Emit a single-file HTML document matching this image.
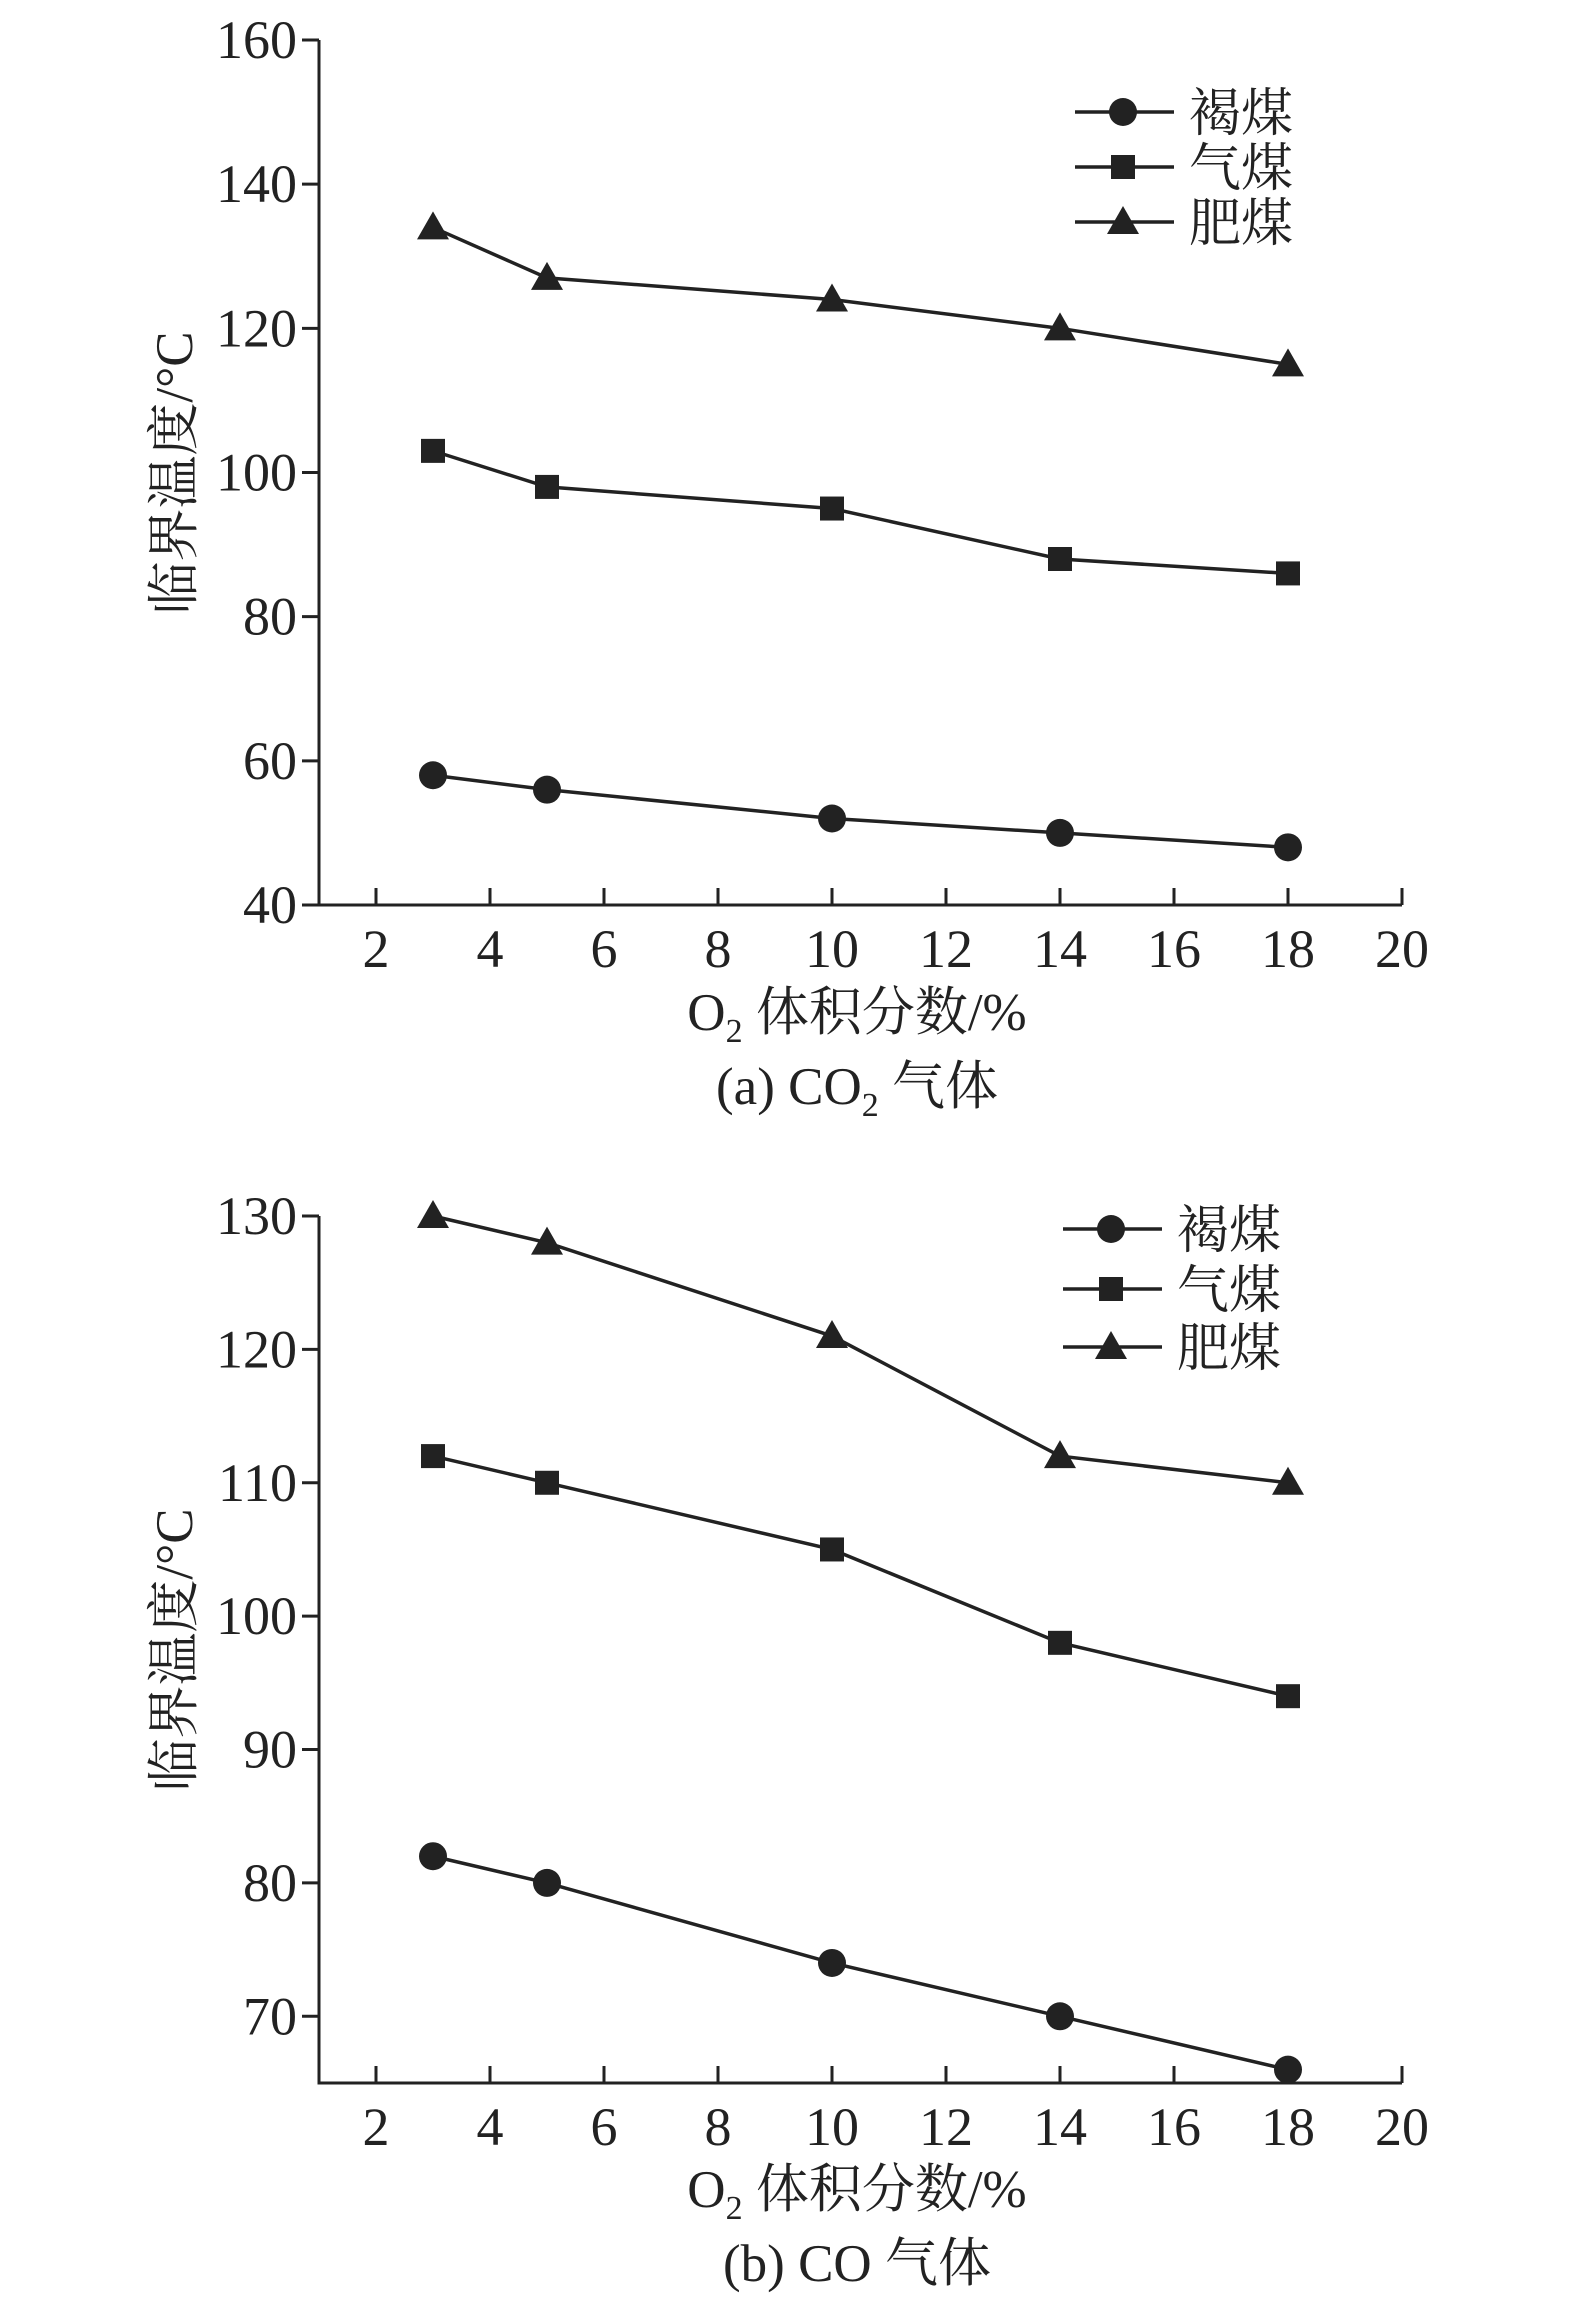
<!DOCTYPE html>
<html><head><meta charset="utf-8"><style>
html,body{margin:0;padding:0;background:#fff}
svg{display:block}
text{font-family:"Liberation Serif","Noto Serif CJK SC","Noto Sans CJK SC",serif;fill:#222}
</style></head><body>
<svg id="chart" width="1575" height="2313" viewBox="0 0 1575 2313" xmlns="http://www.w3.org/2000/svg"></svg>
<script>
const xValues = [3, 5, 10, 14, 18];
const xTicks = [2, 4, 6, 8, 10, 12, 14, 16, 18, 20];
const seriesNames = ["褐煤", "气煤", "肥煤"];
const aLignite = [58, 56, 52, 50, 48];
const aGas = [103, 98, 95, 88, 86];
const aFat = [134, 127, 124, 120, 115];
const aYTicks = [40, 60, 80, 100, 120, 140, 160];
const bLignite = [82, 80, 74, 70, 66];
const bGas = [112, 110, 105, 98, 94];
const bFat = [130, 128, 121, 112, 110];
const bYTicks = [70, 80, 90, 100, 110, 120, 130];

const NS = "http://www.w3.org/2000/svg";
const svg = document.getElementById('chart');
function mk(tag, attrs, parent) {
  const e = document.createElementNS(NS, tag);
  for (const k in attrs) e.setAttribute(k, attrs[k]);
  (parent || svg).appendChild(e);
  return e;
}
function marker(g, kind, cx, cy) {
  let m;
  if (kind === 0) m = mk('circle', {cx: cx, cy: cy, r: 14, fill: '#222'}, g);
  else if (kind === 1) m = mk('rect', {x: cx - 12, y: cy - 12, width: 24, height: 24, fill: '#222'}, g);
  else m = mk('polygon', {points: `${cx},${cy - 16} ${cx + 16},${cy + 12} ${cx - 16},${cy + 12}`, fill: '#222'}, g);
  return m;
}
function drawPanel(cfg) {
  const xL = 319, xR = 1402, xMin = 1, xMax = 20;
  const X = v => xL + (v - xMin) / (xMax - xMin) * (xR - xL);
  const Y = v => cfg.yBot - (v - cfg.yMin) / (cfg.yMax - cfg.yMin) * (cfg.yBot - cfg.yTop);
  const g = mk('g', {});
  
  
  const ax = mk('path', {d: `M${xL},${cfg.yTop} V${cfg.yBot} H${xR}`, stroke: '#222', 'stroke-width': 3, fill: 'none'}, g);
  
  
  cfg.yTicks.forEach(t => {
    const y = Y(t);
    mk('line', {x1: xL - 17, x2: xL, y1: y, y2: y, stroke: '#222', 'stroke-width': 3}, g);
    const tx = mk('text', {x: xL - 22, y: y + 18, 'font-size': 54, 'text-anchor': 'end'}, g);
    tx.textContent = t;
    
    
  });
  xTicks.forEach(t => {
    const x = X(t);
    mk('line', {x1: x, x2: x, y1: cfg.yBot - 17, y2: cfg.yBot, stroke: '#222', 'stroke-width': 3}, g);
    const tx = mk('text', {x: x, y: cfg.yBot + 62, 'font-size': 54, 'text-anchor': 'middle'}, g);
    tx.textContent = t;
    
    
  });
  cfg.series.forEach((vals, si) => {
    const pts = vals.map((v, i) => `${X(xValues[i])},${Y(v)}`).join(' ');
    const pl = mk('polyline', {points: pts, fill: 'none', stroke: '#222', 'stroke-width': 3.5}, g);
    
    
    vals.forEach((v, i) => {
      const m = marker(g, si, X(xValues[i]), Y(v));
      
      
    });
    const ly = cfg.legY[si];
    mk('line', {x1: cfg.legX, x2: cfg.legX + 99, y1: ly, y2: ly, stroke: '#222', 'stroke-width': 3.5}, g);
    marker(g, si, cfg.legX + 48, ly);
    const lt = mk('text', {x: cfg.legX + 114, y: ly + 19, 'font-size': 52}, g);
    lt.textContent = seriesNames[si];
    
    
  });
  const yt = mk('text', {x: 0, y: 0, 'font-size': 53, 'text-anchor': 'middle', transform: `translate(192,${cfg.yTitleY}) rotate(-90)`}, g);
  yt.textContent = '临界温度/°C';
  
  
  const xt = mk('text', {x: 857, y: cfg.xTitleY, 'font-size': 53, 'text-anchor': 'middle'}, g);
  xt.innerHTML = 'O<tspan font-size="34" dy="12">2</tspan><tspan dy="-12"> 体积分数/%</tspan>';
  
  
  const cp = mk('text', {x: 857, y: cfg.capY, 'font-size': 53, 'text-anchor': 'middle'}, g);
  cp.innerHTML = cfg.caption;
  
  
}
drawPanel({name: 'panel-a', yMin: 40, yMax: 160, yTop: 40, yBot: 905,
  yTicks: aYTicks, series: [aLignite, aGas, aFat], legX: 1075, legY: [112, 167, 222],
  yTitleY: 473, xTitleY: 1030, capY: 1104,
  caption: '(a) CO<tspan font-size="34" dy="12">2</tspan><tspan dy="-12"> 气体</tspan>'});
drawPanel({name: 'panel-b', yMin: 65, yMax: 130, yTop: 1216, yBot: 2083,
  yTicks: bYTicks, series: [bLignite, bGas, bFat], legX: 1063, legY: [1229, 1289, 1347],
  yTitleY: 1650, xTitleY: 2207, capY: 2281, caption: '(b) CO 气体'});
</script>
</body></html>
